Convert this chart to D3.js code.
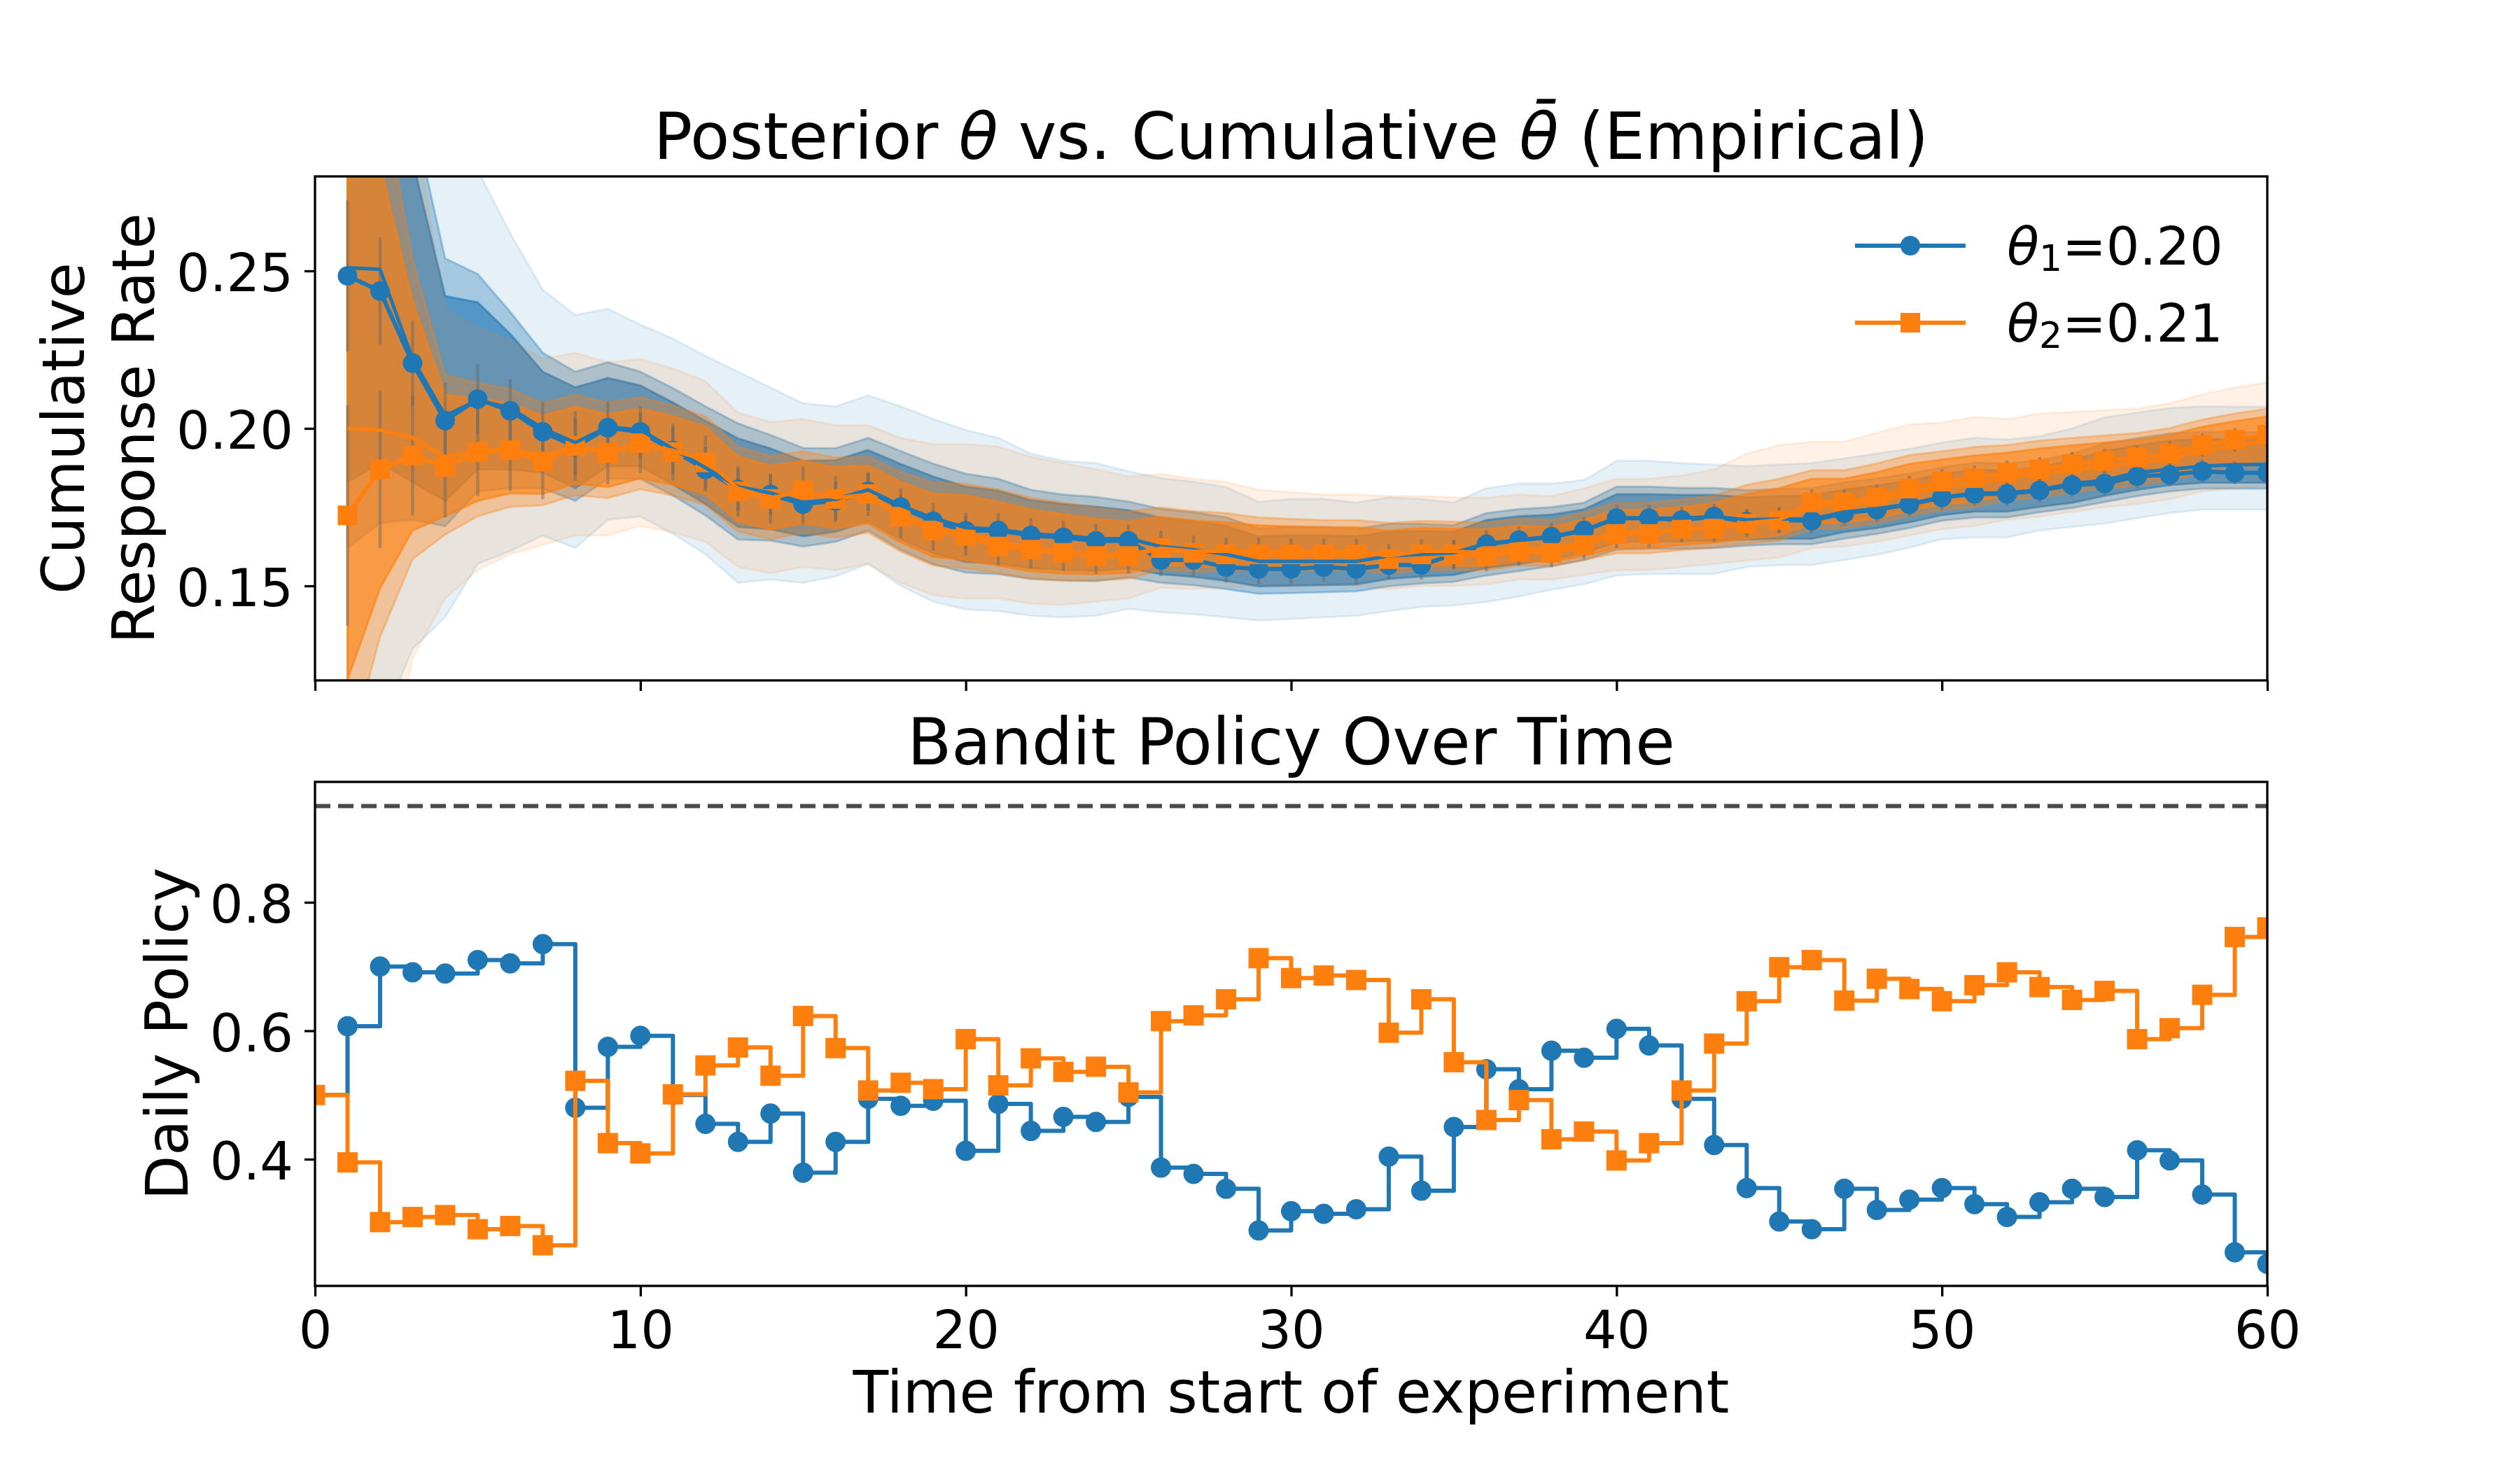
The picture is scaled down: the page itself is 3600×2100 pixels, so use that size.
<!DOCTYPE html>
<html><head><meta charset="utf-8">
<script src="https://cdn.jsdelivr.net/npm/d3@7"></script>
<style>body{margin:0;background:#fff} svg{display:block} text{font-family:"DejaVu Sans",sans-serif}</style>
</head><body>
<script>
// ---------------- data ----------------
const days = [1,2,3,4,5,6,7,8,9,10,11,12,13,14,15,16,17,18,19,20,21,22,23,24,25,26,27,28,29,30,
  31,32,33,34,35,36,37,38,39,40,41,42,43,44,45,46,47,48,49,50,51,52,53,54,55,56,57,58,59,60];
const policyDays = [0,1,2,3,4,5,6,7,8,9,10,11,12,13,14,15,16,17,18,19,20,21,22,23,24,25,26,27,28,29,30,
  31,32,33,34,35,36,37,38,39,40,41,42,43,44,45,46,47,48,49,50,51,52,53,54,55,56,57,58,59,60];
const xTicks = [0,10,20,30,40,50,60];
const topYTicks = [0.15,0.20,0.25];
const botYTicks = [0.4,0.6,0.8];
const legendLabels = ["θ1=0.20","θ2=0.21"];
const threshold = 0.95;

const blueEmp = [0.2484,0.2436,0.2207,0.2025,0.2093,0.2056,0.1989,0.1942,0.2002,0.1989,
 0.1930,0.1870,0.1806,0.1790,0.1760,0.1770,0.1800,0.1750,0.1705,0.1675,
 0.1676,0.1660,0.1654,0.1643,0.1643,0.1582,0.1582,0.1560,0.1554,0.1554,
 0.1560,0.1554,0.1566,0.1566,0.1600,0.1632,0.1645,0.1656,0.1676,0.1715,
 0.1715,0.1709,0.1720,0.1704,0.1709,0.1707,0.1731,0.1742,0.1759,0.1781,
 0.1792,0.1792,0.1803,0.1820,0.1825,0.1848,0.1853,0.1864,0.1859,0.1859];
const bluePost = [0.2510,0.2505,0.2220,0.2040,0.2090,0.2065,0.2000,0.1955,0.2005,0.1995,
 0.1935,0.1875,0.1815,0.1795,0.1765,0.1775,0.1805,0.1755,0.1715,0.1685,
 0.1680,0.1665,0.1660,0.1650,0.1650,0.1625,0.1615,0.1600,0.1578,0.1578,
 0.1578,0.1578,0.1595,0.1600,0.1605,0.1635,0.1645,0.1655,0.1675,0.1715,
 0.1715,0.1715,0.1720,0.1710,0.1712,0.1712,0.1735,0.1745,0.1760,0.1780,
 0.1795,0.1795,0.1805,0.1825,0.1835,0.1860,0.1870,0.1880,0.1885,0.1885];
const blueOuterHi = [0.400,0.360,0.340,0.295,0.282,0.262,0.244,0.236,0.238,0.233,
 0.2285,0.223,0.218,0.213,0.208,0.207,0.2105,0.207,0.203,0.1995,
 0.197,0.192,0.1897,0.189,0.1864,0.1842,0.1831,0.1814,0.1767,0.1776,
 0.1776,0.1765,0.1781,0.1776,0.1765,0.181,0.1825,0.1825,0.1836,0.1897,
 0.1897,0.189,0.1885,0.188,0.1885,0.189,0.1905,0.192,0.1935,0.1955,
 0.197,0.1965,0.1975,0.200,0.2035,0.205,0.2065,0.207,0.2069,0.2069];
const blueOuterLo = [0.090,0.105,0.130,0.140,0.157,0.161,0.166,0.162,0.171,0.172,
 0.1665,0.160,0.151,0.152,0.151,0.153,0.157,0.150,0.145,0.1425,
 0.142,0.1405,0.140,0.1405,0.1427,0.1416,0.141,0.140,0.139,0.1395,
 0.140,0.1405,0.142,0.1433,0.1438,0.1449,0.1466,0.1488,0.1505,0.1533,
 0.1538,0.1538,0.1538,0.156,0.1566,0.1566,0.1582,0.1599,0.1621,0.1648,
 0.1654,0.1654,0.1676,0.1687,0.1698,0.1715,0.1731,0.1742,0.1742,0.1742];
const blueMidHi = [0.333,0.311,0.300,0.254,0.249,0.237,0.224,0.218,0.221,0.218,
 0.2128,0.207,0.2016,0.1979,0.1938,0.1937,0.197,0.1928,0.1888,0.1856,
 0.184,0.1805,0.179,0.1782,0.1768,0.1744,0.1734,0.1718,0.1682,0.1687,
 0.1687,0.1681,0.1697,0.1697,0.1693,0.1731,0.1744,0.175,0.1764,0.1815,
 0.1815,0.1811,0.1811,0.1804,0.1807,0.181,0.1829,0.1841,0.1856,0.1876,
 0.1891,0.1889,0.1899,0.1920,0.1952,0.1969,0.1984,0.1989,0.1988,0.1988];
const blueMidLo = [0.162,0.170,0.171,0.169,0.180,0.181,0.181,0.177,0.184,0.184,
 0.1787,0.1724,0.1647,0.1644,0.1625,0.164,0.1676,0.1615,0.1569,0.1542,
 0.1537,0.1522,0.1517,0.1515,0.1527,0.151,0.1502,0.149,0.1475,0.1477,
 0.148,0.1483,0.1499,0.1508,0.1513,0.1533,0.1547,0.1563,0.1582,0.1615,
 0.1618,0.1618,0.162,0.1628,0.1632,0.1632,0.165,0.1665,0.1684,0.1707,
 0.1717,0.1717,0.1734,0.1747,0.1766,0.1785,0.18,0.1809,0.1809,0.1809];
const blueInnerHi = [0.314,0.296,0.285,0.242,0.240,0.230,0.218,0.213,0.216,0.2136,
 0.2082,0.2024,0.1968,0.1936,0.1897,0.1899,0.1931,0.1887,0.1847,0.1815,
 0.1802,0.1772,0.176,0.1751,0.174,0.1716,0.1706,0.169,0.1657,0.1661,
 0.1661,0.1657,0.1673,0.1674,0.1672,0.1709,0.1721,0.1726,0.1743,0.1791,
 0.1791,0.1789,0.1789,0.1781,0.1785,0.1787,0.1806,0.1819,0.1834,0.1854,
 0.1869,0.1866,0.1876,0.1900,0.1928,0.1946,0.1961,0.1966,0.1965,0.1965];
const blueInnerLo = [0.183,0.189,0.183,0.177,0.187,0.187,0.186,0.181,0.188,0.188,
 0.1822,0.176,0.1687,0.168,0.1658,0.1672,0.1706,0.1648,0.1604,0.1576,
 0.1571,0.1556,0.1551,0.1547,0.1556,0.1537,0.1529,0.1516,0.1499,0.1501,
 0.1503,0.1505,0.1522,0.153,0.1535,0.1557,0.157,0.1585,0.1604,0.1639,
 0.1641,0.1641,0.1644,0.1647,0.165,0.165,0.1671,0.1684,0.1702,0.1725,
 0.1736,0.1736,0.1751,0.1764,0.1786,0.1805,0.182,0.1828,0.1828,0.1828];

const orangeEmp = [0.1724,0.1870,0.1914,0.1878,0.1925,0.1931,0.1895,0.1944,0.1922,0.1953,
 0.1925,0.1892,0.1800,0.1776,0.1803,0.1776,0.1792,0.1720,0.1676,0.1659,
 0.1625,0.1615,0.1605,0.1595,0.1595,0.1620,0.1605,0.1600,0.1600,0.1600,
 0.1600,0.1600,0.1585,0.1600,0.1600,0.1595,0.1610,0.1605,0.1630,0.1665,
 0.1665,0.1682,0.1682,0.1698,0.1709,0.1765,0.1765,0.1781,0.1809,0.1831,
 0.1842,0.1859,0.1870,0.1886,0.1897,0.1908,0.1920,0.1947,0.1964,0.1980];
const orangePost = [0.2000,0.1995,0.1970,0.1910,0.1930,0.1935,0.1910,0.1945,0.1925,0.1950,
 0.1930,0.1900,0.1810,0.1780,0.1800,0.1780,0.1790,0.1730,0.1680,0.1670,
 0.1640,0.1620,0.1610,0.1600,0.1600,0.1620,0.1610,0.1610,0.1610,0.1610,
 0.1610,0.1610,0.1595,0.1610,0.1610,0.1605,0.1620,0.1615,0.1640,0.1670,
 0.1670,0.1680,0.1685,0.1700,0.1710,0.1755,0.1755,0.1770,0.1795,0.1815,
 0.1825,0.1845,0.1855,0.1870,0.1880,0.1890,0.1905,0.1930,0.1945,0.1960];
const orangeOuterHi = [0.420,0.400,0.300,0.238,0.232,0.228,0.222,0.224,0.221,0.222,
 0.219,0.215,0.205,0.202,0.203,0.201,0.201,0.197,0.195,0.195,
 0.1942,0.191,0.189,0.187,0.1848,0.1855,0.184,0.183,0.1805,0.1798,
 0.179,0.179,0.1785,0.1785,0.1781,0.178,0.179,0.1785,0.181,0.184,
 0.184,0.185,0.187,0.192,0.1947,0.1958,0.1958,0.1986,0.2013,0.2019,
 0.2036,0.203,0.2047,0.2052,0.2058,0.2063,0.208,0.2108,0.213,0.2146];
const orangeOuterLo = [0.010,0.080,0.127,0.146,0.155,0.160,0.163,0.166,0.166,0.169,
 0.167,0.164,0.156,0.154,0.156,0.155,0.157,0.151,0.147,0.146,
 0.146,0.1444,0.144,0.145,0.146,0.1494,0.149,0.1495,0.150,0.1495,
 0.150,0.150,0.149,0.150,0.150,0.1505,0.152,0.152,0.1535,0.155,
 0.155,0.156,0.157,0.158,0.159,0.162,0.1625,0.164,0.166,0.168,
 0.169,0.171,0.172,0.1735,0.175,0.176,0.1775,0.180,0.181,0.182];
const orangeMidHi = [0.321,0.3098,0.2537,0.2169,0.2145,0.2125,0.2081,0.2107,0.2082,0.2099,
 0.2073,0.2038,0.1942,0.1912,0.1927,0.1907,0.1911,0.1862,0.1829,0.1824,
 0.1806,0.178,0.1764,0.1749,0.1736,0.1749,0.1737,0.1731,0.1717,0.1713,
 0.1709,0.1709,0.17,0.1706,0.1704,0.1701,0.1714,0.1709,0.1734,0.1764,
 0.1764,0.1774,0.1787,0.1821,0.184,0.1867,0.1867,0.1889,0.1915,0.1927,
 0.1941,0.1947,0.1961,0.197,0.1978,0.1985,0.2001,0.2028,0.2047,0.2062];
const orangeMidLo = [0.0955,0.1338,0.1585,0.1663,0.1721,0.1751,0.1756,0.1788,0.1779,0.1807,
 0.1787,0.1757,0.1673,0.1648,0.1668,0.1654,0.1669,0.1609,0.1565,0.1555,
 0.1541,0.1523,0.1517,0.1518,0.1523,0.1551,0.1544,0.1547,0.155,0.1547,
 0.155,0.155,0.1537,0.155,0.155,0.155,0.1565,0.1563,0.1582,0.1604,
 0.1604,0.1614,0.1622,0.1634,0.1644,0.1681,0.1684,0.1699,0.1721,0.1741,
 0.1751,0.1771,0.1781,0.1796,0.1809,0.1819,0.1834,0.1859,0.1871,0.1883];
const orangeInnerHi = [0.2924,0.2837,0.2403,0.2107,0.2094,0.208,0.204,0.2069,0.2045,0.2063,
 0.2039,0.2005,0.1911,0.1881,0.1897,0.1877,0.1882,0.1831,0.1793,0.1788,
 0.1767,0.1742,0.1728,0.1713,0.1704,0.1719,0.1707,0.1702,0.1692,0.1689,
 0.1686,0.1686,0.1675,0.1684,0.1682,0.1679,0.1691,0.1686,0.1711,0.1741,
 0.1741,0.1751,0.1763,0.1792,0.181,0.184,0.184,0.1861,0.1887,0.1901,
 0.1914,0.1923,0.1936,0.1946,0.1955,0.1963,0.1979,0.2005,0.2023,0.2038];
const orangeInnerLo = [0.1202,0.1493,0.1676,0.1721,0.177,0.1794,0.1792,0.1825,0.1814,0.1841,
 0.1821,0.1791,0.1705,0.1679,0.1699,0.1683,0.1698,0.1638,0.1592,0.1582,
 0.1564,0.1546,0.1539,0.1537,0.1541,0.1567,0.156,0.1562,0.1564,0.1562,
 0.1564,0.1564,0.1551,0.1564,0.1564,0.1563,0.1578,0.1575,0.1596,0.162,
 0.162,0.163,0.1637,0.165,0.166,0.1698,0.17,0.1715,0.1738,0.1758,
 0.1768,0.1788,0.1798,0.1813,0.1825,0.1835,0.185,0.1875,0.1888,0.1901];

const blueErr = [0.024,0.017,0.0135,0.012,0.011,0.010,0.0095,0.009,0.0085,0.008,
 0.0075,0.007,0.0068,0.0066,0.0064,0.0062,0.006,0.006,0.0058,0.0057,
 0.0055,0.0055,0.0054,0.0053,0.0052,0.0051,0.005,0.005,0.0049,0.0048,
 0.0047,0.0047,0.0046,0.0046,0.0045,0.0045,0.0044,0.0044,0.0043,0.0043,
 0.0042,0.0042,0.0041,0.0041,0.004,0.004,0.004,0.0039,0.0039,0.0039,
 0.0038,0.0038,0.0038,0.0037,0.0037,0.0037,0.0036,0.0036,0.0036,0.0036];
const orangeErr = [0.035,0.025,0.019,0.016,0.014,0.013,0.012,0.011,0.010,0.0095,
 0.009,0.0085,0.008,0.0078,0.0075,0.0072,0.007,0.0068,0.0065,0.0063,
 0.006,0.0059,0.0058,0.0057,0.0056,0.0055,0.0054,0.0053,0.0052,0.0051,
 0.005,0.0049,0.0048,0.0048,0.0047,0.0047,0.0046,0.0046,0.0045,0.0045,
 0.0044,0.0044,0.0043,0.0043,0.0042,0.0042,0.0041,0.0041,0.004,0.004,
 0.004,0.0039,0.0039,0.0039,0.0038,0.0038,0.0038,0.0037,0.0037,0.0037];

const bluePolicy = [0.50,0.607,0.700,0.691,0.689,0.710,0.705,0.735,0.480,0.575,0.592,
 0.500,0.455,0.427,0.471,0.379,0.427,0.494,0.483,0.491,0.413,
 0.486,0.444,0.466,0.458,0.497,0.387,0.377,0.354,0.289,0.319,
 0.315,0.322,0.404,0.351,0.450,0.540,0.509,0.569,0.558,0.603,
 0.577,0.494,0.422,0.355,0.303,0.291,0.354,0.321,0.337,0.355,
 0.330,0.310,0.333,0.354,0.341,0.414,0.398,0.345,0.255,0.237];
const orangePolicy = [0.50,0.395,0.302,0.310,0.313,0.291,0.296,0.266,0.522,0.425,0.409,
 0.501,0.546,0.574,0.530,0.623,0.573,0.507,0.519,0.509,0.587,
 0.515,0.557,0.536,0.544,0.504,0.615,0.624,0.649,0.713,0.682,
 0.686,0.679,0.597,0.649,0.551,0.461,0.492,0.431,0.443,0.398,
 0.425,0.507,0.580,0.646,0.699,0.710,0.647,0.681,0.665,0.646,
 0.671,0.691,0.668,0.648,0.662,0.587,0.604,0.656,0.746,0.761];

// ---------------- layout ----------------
const W = 3600, H = 2100;
const L = 450, R = 3239;
const topY0 = 252, topY1 = 972, botY0 = 1117, botY1 = 1837;
const BLUE = "#1f77b4", ORANGE = "#ff7f0e";
const FONT = "DejaVu Sans";
const TITLE_SIZE = 92, LABEL_SIZE = 83, TICK_SIZE = 75;

const svg = d3.select("body").append("svg").attr("width", W).attr("height", H)
  .attr("viewBox", `0 0 ${W} ${H}`);
svg.append("rect").attr("width", W).attr("height", H).attr("fill", "#fff");

const x = d3.scaleLinear().domain([0, 60]).range([L, R]);
const yT = d3.scaleLinear().domain([0.12, 0.28]).range([topY1, topY0]);
const yB = d3.scaleLinear().domain([0.2027, 0.9875]).range([botY1, botY0]);

const defs = svg.append("defs");
defs.append("clipPath").attr("id", "clipTop").append("rect")
  .attr("x", L).attr("y", topY0).attr("width", R - L).attr("height", topY1 - topY0);
defs.append("clipPath").attr("id", "clipBot").append("rect")
  .attr("x", L).attr("y", botY0).attr("width", R - L).attr("height", botY1 - botY0);

// ---------------- top panel ----------------
const gT = svg.append("g").attr("clip-path", "url(#clipTop)");

function band(lo, hi, color, alpha) {
  const area = d3.area().x((d, i) => x(days[i])).y0((d, i) => yT(lo[i])).y1((d, i) => yT(hi[i]));
  gT.append("path").datum(days).attr("d", area)
    .attr("fill", color).attr("fill-opacity", alpha)
    .attr("stroke", color).attr("stroke-opacity", alpha).attr("stroke-width", 3)
    .attr("stroke-linejoin", "round");
}
band(blueOuterLo, blueOuterHi, BLUE, 0.11);
band(blueMidLo, blueMidHi, BLUE, 0.33);
band(blueInnerLo, blueInnerHi, BLUE, 0.6);
band(orangeOuterLo, orangeOuterHi, ORANGE, 0.11);
band(orangeMidLo, orangeMidHi, ORANGE, 0.33);
band(orangeInnerLo, orangeInnerHi, ORANGE, 0.6);

// error bars
function errbars(vals, errs) {
  gT.append("g").selectAll("line").data(days).join("line")
    .attr("x1", d => x(d)).attr("x2", d => x(d))
    .attr("y1", (d, i) => yT(vals[i] - errs[i])).attr("y2", (d, i) => yT(vals[i] + errs[i]))
    .attr("stroke", "#666").attr("stroke-opacity", 0.45).attr("stroke-width", 4.5);
}
errbars(blueEmp, blueErr);
errbars(orangeEmp, orangeErr);

const lineT = vals => d3.line().x((d, i) => x(days[i])).y((d, i) => yT(vals[i]))(days);

// blue empirical with circles
gT.append("path").attr("d", lineT(blueEmp)).attr("fill", "none")
  .attr("stroke", BLUE).attr("stroke-width", 6).attr("stroke-linejoin", "round");
gT.append("g").selectAll("circle").data(days).join("circle")
  .attr("cx", d => x(d)).attr("cy", (d, i) => yT(blueEmp[i])).attr("r", 14).attr("fill", BLUE);
// orange empirical with squares
gT.append("path").attr("d", lineT(orangeEmp)).attr("fill", "none")
  .attr("stroke", ORANGE).attr("stroke-width", 6).attr("stroke-linejoin", "round");
gT.append("g").selectAll("rect").data(days).join("rect")
  .attr("x", d => x(d) - 14).attr("y", (d, i) => yT(orangeEmp[i]) - 14)
  .attr("width", 28).attr("height", 28).attr("fill", ORANGE);
// posterior mean lines
gT.append("path").attr("d", lineT(bluePost)).attr("fill", "none")
  .attr("stroke", BLUE).attr("stroke-width", 5).attr("stroke-linejoin", "round");
gT.append("path").attr("d", lineT(orangePost)).attr("fill", "none")
  .attr("stroke", ORANGE).attr("stroke-width", 5).attr("stroke-linejoin", "round");

// axes for top
const axT = svg.append("g");
axT.append("g").attr("transform", `translate(${L},0)`)
  .call(d3.axisLeft(yT).tickValues(topYTicks).tickFormat(d3.format(".2f")).tickSize(15).tickPadding(16).tickSizeOuter(0))
  .call(g => { g.select(".domain").remove(); g.selectAll("line").attr("stroke", "#000").attr("stroke-width", 3.3);
    g.selectAll("text").attr("font-size", TICK_SIZE).attr("font-family", FONT).attr("fill", "#000").attr("dy", "0.38em"); });
axT.append("g").attr("transform", `translate(0,${topY1})`)
  .call(d3.axisBottom(x).tickValues(xTicks).tickFormat("").tickSize(15).tickSizeOuter(0))
  .call(g => { g.select(".domain").remove(); g.selectAll("line").attr("stroke", "#000").attr("stroke-width", 3.3); });
svg.append("rect").attr("x", L).attr("y", topY0).attr("width", R - L).attr("height", topY1 - topY0)
  .attr("fill", "none").attr("stroke", "#000").attr("stroke-width", 3.3);

// title top
const t1 = svg.append("text").attr("x", (L + R) / 2).attr("y", 227).attr("text-anchor", "middle")
  .attr("font-size", TITLE_SIZE).attr("font-family", FONT).attr("fill", "#000");
t1.append("tspan").text("Posterior ");
t1.append("tspan").attr("font-style", "italic").text("θ");
t1.append("tspan").text(" vs. Cumulative ");
t1.append("tspan").attr("font-style", "italic").text("θ\u0304");
t1.append("tspan").text(" (Empirical)");

// y label top (two lines)
const yl = svg.append("text").attr("transform", `translate(0,${(topY0 + topY1) / 2}) rotate(-90)`)
  .attr("text-anchor", "middle").attr("font-size", LABEL_SIZE).attr("font-family", FONT).attr("fill", "#000");
yl.append("tspan").attr("x", 0).attr("y", 120).text("Cumulative");
yl.append("tspan").attr("x", 0).attr("y", 220).text("Response Rate");

// legend
const legend = svg.append("g");
const legItems = [{c: BLUE, shape: "circle", label: legendLabels[0], y: 351},
                  {c: ORANGE, shape: "square", label: legendLabels[1], y: 461}];
legItems.forEach(it => {
  legend.append("line").attr("x1", 2650).attr("x2", 2808).attr("y1", it.y).attr("y2", it.y)
    .attr("stroke", it.c).attr("stroke-width", 6);
  if (it.shape === "circle") legend.append("circle").attr("cx", 2729).attr("cy", it.y).attr("r", 14).attr("fill", it.c);
  else legend.append("rect").attr("x", 2715).attr("y", it.y - 14).attr("width", 28).attr("height", 28).attr("fill", it.c);
  const tx = legend.append("text").attr("x", 2867).attr("y", it.y + 27).attr("font-size", TICK_SIZE)
    .attr("font-family", FONT).attr("fill", "#000");
  tx.append("tspan").attr("font-style", "italic").text(it.label.slice(0, 1));
  tx.append("tspan").attr("font-size", 52).attr("dy", 9).text(it.label.slice(1, 2));
  tx.append("tspan").attr("dy", -9).text(it.label.slice(2));
});

// ---------------- bottom panel ----------------
const gB = svg.append("g").attr("clip-path", "url(#clipBot)");
gB.append("line").attr("x1", x(0)).attr("x2", x(60)).attr("y1", yB(threshold)).attr("y2", yB(threshold))
  .attr("stroke", "#4a4a4a").attr("stroke-width", 6).attr("stroke-dasharray", "22,11");
const stepLine = vals => d3.line().curve(d3.curveStepAfter)
  .x((d, i) => x(policyDays[i])).y((d, i) => yB(vals[i]))(policyDays);
gB.append("path").attr("d", stepLine(bluePolicy)).attr("fill", "none")
  .attr("stroke", BLUE).attr("stroke-width", 6).attr("stroke-linejoin", "round");
gB.append("g").selectAll("circle").data(policyDays).join("circle")
  .attr("cx", d => x(d)).attr("cy", (d, i) => yB(bluePolicy[i])).attr("r", 14.5).attr("fill", BLUE);
gB.append("path").attr("d", stepLine(orangePolicy)).attr("fill", "none")
  .attr("stroke", ORANGE).attr("stroke-width", 6).attr("stroke-linejoin", "round");
gB.append("g").selectAll("rect").data(policyDays).join("rect")
  .attr("x", d => x(d) - 14.5).attr("y", (d, i) => yB(orangePolicy[i]) - 14.5)
  .attr("width", 29).attr("height", 29).attr("fill", ORANGE);

const axB = svg.append("g");
axB.append("g").attr("transform", `translate(${L},0)`)
  .call(d3.axisLeft(yB).tickValues(botYTicks).tickFormat(d3.format(".1f")).tickSize(15).tickPadding(16).tickSizeOuter(0))
  .call(g => { g.select(".domain").remove(); g.selectAll("line").attr("stroke", "#000").attr("stroke-width", 3.3);
    g.selectAll("text").attr("font-size", TICK_SIZE).attr("font-family", FONT).attr("fill", "#000").attr("dy", "0.38em"); });
axB.append("g").attr("transform", `translate(0,${botY1})`)
  .call(d3.axisBottom(x).tickValues(xTicks).tickFormat(d3.format("d")).tickSize(15).tickPadding(15).tickSizeOuter(0))
  .call(g => { g.select(".domain").remove(); g.selectAll("line").attr("stroke", "#000").attr("stroke-width", 3.3);
    g.selectAll("text").attr("font-size", TICK_SIZE).attr("font-family", FONT).attr("fill", "#000").attr("dy", "0.78em"); });
svg.append("rect").attr("x", L).attr("y", botY0).attr("width", R - L).attr("height", botY1 - botY0)
  .attr("fill", "none").attr("stroke", "#000").attr("stroke-width", 3.3);

svg.append("text").attr("x", (L + R) / 2).attr("y", 1092).attr("text-anchor", "middle")
  .attr("font-size", TITLE_SIZE).attr("font-family", FONT).attr("fill", "#000").text("Bandit Policy Over Time");
svg.append("text").attr("transform", `translate(268,${(botY0 + botY1) / 2}) rotate(-90)`)
  .attr("text-anchor", "middle").attr("font-size", LABEL_SIZE).attr("font-family", FONT).attr("fill", "#000").text("Daily Policy");
svg.append("text").attr("x", (L + R) / 2).attr("y", 2018).attr("text-anchor", "middle")
  .attr("font-size", LABEL_SIZE).attr("font-family", FONT).attr("fill", "#000").text("Time from start of experiment");
</script>
</body></html>
